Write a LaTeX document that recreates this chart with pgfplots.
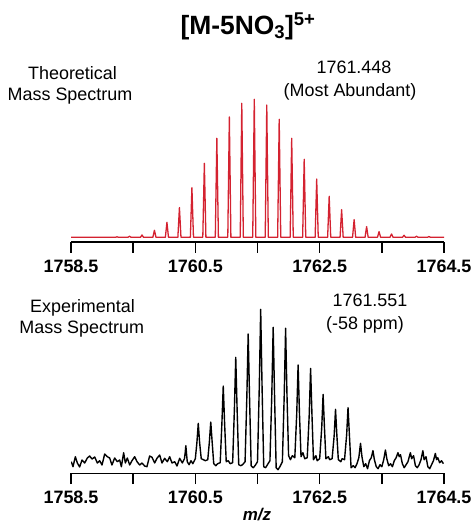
\documentclass[border=0pt]{standalone}
\usepackage{fontspec}
\setmainfont{Liberation Sans}
\usepackage{pgfplots}
\pgfplotsset{compat=1.18}
\definecolor{theo}{RGB}{212,34,48}

\pgfplotsset{msaxis/.style={
    scale only axis, width=373bp,
    xmin=1758.5, xmax=1764.5,
    axis x line=bottom, axis y line=none, ytick=\empty,
    x axis line style={-, line width=1.5bp},
    xtick={1758.5,1759.5,1760.5,1761.5,1762.5,1763.5,1764.5},
    xticklabels={1758.5,,1760.5,,1762.5,,1764.5},
    tick align=outside, major tick length=10.7bp,
    every tick/.style={black, line width=1.5bp},
    xticklabel style={font=\fontsize{18}{18}\selectfont\bfseries, anchor=base, yshift=-19.5bp},
    anchor=south west,
}}

\begin{document}
\begin{tikzpicture}[x=1bp,y=1bp]
\useasboundingbox (0,0) rectangle (474,525);

% theoretical
\begin{axis}[msaxis, at={(71bp,283bp)}, height=149.7bp, ymin=-4.7, ymax=145]
\addplot[theo, line width=1.3bp, line join=round] coordinates {
(1758.5,0)
(1759.215,0)(1759.240,0.5)(1759.265,0)
(1759.416,0)(1759.441,1)(1759.466,0)
(1759.617,0)(1759.642,2.3)(1759.667,0)
(1759.817,0)(1759.842,7)(1759.867,0)
(1760.018,0)(1760.043,15)(1760.068,0)
(1760.219,0)(1760.244,29.7)(1760.269,0)
(1760.420,0)(1760.445,49.7)(1760.470,0)
(1760.620,0)(1760.645,74)(1760.670,0)
(1760.821,0)(1760.846,99)(1760.871,0)
(1761.022,0)(1761.047,120.3)(1761.072,0)
(1761.222,0)(1761.247,134)(1761.272,0)
(1761.423,0)(1761.448,138)(1761.473,0)
(1761.624,0)(1761.649,132.3)(1761.674,0)
(1761.824,0)(1761.849,118)(1761.874,0)
(1762.025,0)(1762.050,99)(1762.075,0)
(1762.226,0)(1762.251,78)(1762.276,0)
(1762.427,0)(1762.452,58.3)(1762.477,0)
(1762.628,0)(1762.653,41)(1762.678,0)
(1762.828,0)(1762.853,27.7)(1762.878,0)
(1763.029,0)(1763.054,17.7)(1763.079,0)
(1763.230,0)(1763.255,10.7)(1763.280,0)
(1763.430,0)(1763.455,5.7)(1763.480,0)
(1763.631,0)(1763.656,3.3)(1763.681,0)
(1763.832,0)(1763.857,2)(1763.882,0)
(1764.033,0)(1764.058,1)(1764.083,0)
(1764.233,0)(1764.258,0.7)(1764.283,0)
(1764.5,0)
};
\end{axis}

% experimental
\begin{axis}[msaxis, at={(71bp,51.7bp)}, height=171.6bp, ymin=-11.6, ymax=160]
\addplot[black, line width=1.4bp, line join=round] coordinates {
(1758.505,0)(1758.532,-5)(1758.570,5)(1758.602,-1.3)(1758.639,-5.3)(1758.677,1.7)
(1758.720,-1.3)(1758.763,3.7)(1758.800,5.7)(1758.838,2.7)(1758.881,4.7)(1758.924,-1.3)
(1758.961,1)(1758.999,-3.3)(1759.042,7.7)(1759.084,5)(1759.122,3.7)(1759.159,-3.3)
(1759.202,3.7)(1759.245,0)(1759.283,1.7)(1759.310,-5)(1759.347,9)(1759.374,-1.3)
(1759.406,3.7)(1759.444,-3.3)(1759.481,1)(1759.524,5)(1759.562,0)(1759.605,-3.3)
(1759.642,-1.3)(1759.685,-4.3)(1759.722,-5)(1759.765,5.7)(1759.803,4.4)(1759.846,-1.3)
(1759.883,3.4)(1759.926,6.7)(1759.964,-1.3)(1760.007,3.4)(1760.049,0)(1760.087,5)
(1760.125,-1.3)(1760.168,0)(1760.205,-4.3)(1760.248,3.4)(1760.291,-1.3)
(1760.325,3)(1760.337,9)(1760.347,16)(1760.357,9)(1760.370,0)
(1760.40,-3)(1760.43,1)(1760.46,-2)
(1760.50,3)(1760.525,19)(1760.547,38.3)(1760.569,19)(1760.595,3)
(1760.63,2)(1760.66,1)
(1760.70,2)(1760.726,20)(1760.748,39.7)(1760.770,20)(1760.796,-2)
(1760.83,-4)(1760.86,-2)
(1760.90,-1)(1760.927,38)(1760.949,75.7)(1760.971,38)(1760.997,0)
(1761.03,1)(1761.06,-2)
(1761.10,-1)(1761.128,52)(1761.150,104.4)(1761.172,52)(1761.198,-3)
(1761.23,-4)(1761.26,-3)
(1761.30,0)(1761.328,64)(1761.350,127.7)(1761.372,64)(1761.398,-4)
(1761.43,-6)(1761.46,-4)
(1761.50,0)(1761.529,76)(1761.551,152.4)(1761.573,76)(1761.600,-5)
(1761.63,-6)(1761.66,-3)
(1761.70,1)(1761.730,67)(1761.752,134.4)(1761.774,67)(1761.800,-6)
(1761.83,-8)(1761.86,-5)
(1761.90,0)(1761.930,67)(1761.952,133.4)(1761.974,67)(1762.000,6)
(1762.03,2)(1762.06,6)
(1762.10,4)(1762.131,48)(1762.153,96.7)(1762.175,48)(1762.200,5)
(1762.23,9)(1762.26,3)
(1762.30,4)(1762.332,47)(1762.354,93.3)(1762.376,47)(1762.400,2)
(1762.44,6)(1762.46,1)
(1762.50,3)(1762.533,34)(1762.555,67.3)(1762.577,34)(1762.600,3)
(1762.64,5)(1762.66,2)
(1762.70,3)(1762.733,26)(1762.755,52.3)(1762.777,26)(1762.800,2)
(1762.84,0)(1762.86,3)
(1762.90,2)(1762.934,27)(1762.956,54)(1762.978,27)(1763.005,-6)
(1763.04,-4)(1763.07,-6)(1763.10,-2)
(1763.13,4)(1763.157,18.4)(1763.18,5)
(1763.21,-5)(1763.24,-2)(1763.27,-7)(1763.30,1)
(1763.33,4)(1763.357,11)(1763.38,2)
(1763.41,-5)(1763.44,-7)(1763.47,-3)(1763.50,-5)(1763.53,2)
(1763.558,11.7)(1763.58,3)
(1763.61,-4)(1763.64,-2)(1763.67,-5)(1763.70,1)(1763.73,4)
(1763.759,9)(1763.78,5)(1763.80,7)(1763.83,-2)
(1763.86,-6)(1763.89,-3)(1763.92,0)
(1763.959,9)(1763.98,3)(1764.01,6)(1764.04,-4)(1764.07,-6)(1764.10,-3)(1764.13,2)
(1764.160,11)(1764.18,2)(1764.21,5)(1764.24,-5)(1764.27,-7)(1764.30,-3)(1764.33,1)
(1764.361,8.3)(1764.38,2)(1764.40,4)(1764.43,-1)(1764.46,1)(1764.49,-2)
};
\end{axis}

\node[anchor=base, font=\fontsize{26.5}{28}\selectfont\bfseries] at (248,490.7)
  {[M-5NO\textsubscript{3}]\textsuperscript{5+}};
\begin{scope}[every node/.style={anchor=base, font=\fontsize{18}{20}\selectfont}]
\node at (72.5,445) {Theoretical};
\node at (70,424) {Mass Spectrum};
\node at (354,451) {1761.448};
\node at (350,428.3) {(Most Abundant)};
\node at (82.5,212.7) {Experimental};
\node at (81.7,191) {Mass Spectrum};
\node at (370,218.3) {1761.551};
\node at (365,195) {(-58 ppm)};
\end{scope}
\node[anchor=base, font=\fontsize{17}{17}\selectfont\bfseries\itshape] at (257,4.5) {m/z};
\end{tikzpicture}
\end{document}
